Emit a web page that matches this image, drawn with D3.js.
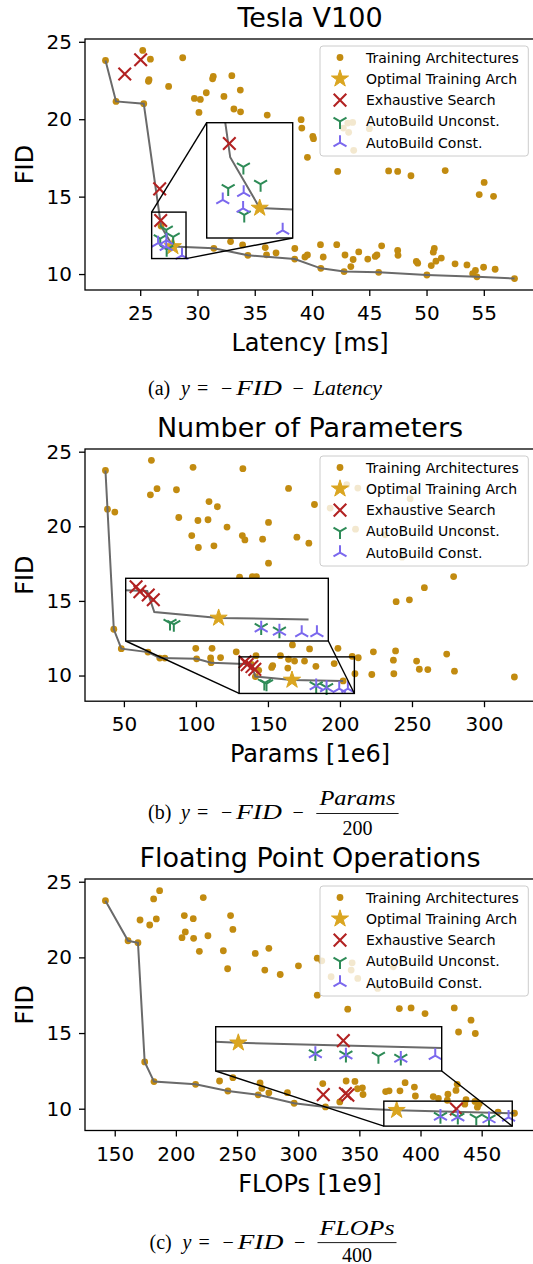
<!DOCTYPE html>
<html><head><meta charset="utf-8">
<script src="https://cdn.jsdelivr.net/npm/d3@7"></script>
<style>body{margin:0;background:#fff}svg{display:block}</style>
</head><body>
<svg id="c" width="533" height="1264"></svg>
<script>
// ---------------- DATA ----------------
const fidTicks = [10, 15, 20, 25];
const latencyTicks = [25, 30, 35, 40, 45, 50, 55];
const paramTicks = [50, 100, 150, 200, 250, 300];
const flopTicks = [150, 200, 250, 300, 350, 400, 450];

const legendLabels = ["Training Architectures", "Optimal Training Arch", "Exhaustive Search", "AutoBuild Unconst.", "AutoBuild Const."];

// Panel (a): Latency [ms] vs FID
const latencyPareto = [[21.97,23.79],[22.89,21.15],[25.31,21.0],[26.82,13.1],[27.85,11.78],[31.43,11.66],[34.4,11.21],[38.49,10.97],[40.77,10.37],[42.8,10.16],[45.82,10.11],[50.03,9.94],[54.4,9.82],[57.68,9.71]];
const latencyTraining = [[25.22,24.44],[25.89,23.88],[25.77,22.55],[25.72,22.45],[28.71,23.97],[27.48,22.12],[31.38,22.76],[31.32,22.61],[33.0,22.81],[30.77,21.71],[29.73,21.34],[30.25,21.28],[32.31,21.47],[33.74,21.88],[30.13,20.44],[33.18,20.66],[33.76,20.48],[36.09,20.27],[39.05,19.97],[39.11,19.43],[40.07,18.89],[40.13,18.74],[39.6,17.54],[42.24,16.63],[46.69,16.66],[47.48,16.63],[48.64,16.35],[51.63,16.68],[55.03,15.92],[54.6,15.13],[55.85,15.02],[43.12,19.75],[43.55,19.79],[45.01,19.39],[43.2,19.15],[43.64,17.99],[42.74,19.43],[32.89,12.1],[33.94,11.88],[35.92,11.71],[36.03,11.24],[36.86,11.36],[38.5,11.65],[39.38,11.1],[39.6,11.23],[40.74,11.9],[40.98,11.1],[42.16,11.9],[42.88,11.23],[43.59,10.94],[43.39,10.48],[44.08,11.43],[44.87,10.97],[45.52,11.14],[45.67,11.23],[46.08,11.82],[47.48,11.52],[47.51,11.21],[49.11,10.81],[49.23,10.7],[50.68,11.65],[50.59,11.41],[51.29,11.03],[50.82,10.83],[50.41,10.55],[52.49,10.66],[53.53,10.59],[54.27,10.23],[54.03,10.02],[54.98,10.44],[55.99,10.31]];
const latencyOptimal = [[27.85,11.78]];
const latencyExhaustive = [[23.65,22.92],[25.04,23.84],[26.7,15.5],[26.79,13.46]];
const latencyUnconst = [[27.28,12.85],[26.75,12.29],[27.88,12.4],[27.31,11.6]];
const latencyConst = [[26.56,11.99],[27.29,12.18],[27.27,11.77],[28.65,11.2]];

// Panel (b): Params [1e6] vs FID
const paramPareto = [[37.2,23.74],[43.0,13.1],[48.2,11.8],[66.7,11.57],[74.9,11.17],[100.5,11.12],[110.5,10.86],[138.5,10.75],[141.3,9.93],[166.7,9.7],[202.2,9.64]];
const paramTraining = [[38.6,21.15],[43.7,20.95],[69.1,24.42],[98.0,23.95],[132.6,23.86],[73.0,22.52],[68.4,22.11],[86.5,22.45],[109.1,21.66],[114.9,21.31],[88.1,20.59],[101.4,20.39],[108.4,20.44],[121.6,19.95],[97.1,19.38],[101.7,18.58],[112.5,18.69],[132.2,19.38],[134.0,19.09],[146.3,19.14],[150.4,20.26],[164.3,22.54],[182.3,21.46],[170.1,19.27],[178.4,18.87],[150.4,17.53],[130.3,16.59],[139.2,16.63],[142,16.63],[204.7,22.79],[212.4,22.56],[248.7,21.85],[193.2,21.22],[210.8,19.81],[231.4,19.43],[243.1,17.93],[287.5,19.7],[278.9,16.63],[258.6,15.89],[248.2,15.07],[239,14.95],[99.9,11.82],[111.2,11.82],[110.2,11.18],[78.4,11.17],[117.1,11.2],[128,11.59],[141.7,11.33],[143.6,10.35],[152.6,10.54],[153.3,10.67],[158.7,11.33],[167,12.05],[164.3,11.09],[168.5,10.97],[163.8,10.5],[175.4,10.97],[178.9,11.78],[183.3,10.62],[196,10.8],[198.6,11.82],[208.5,11.29],[212.7,11.19],[210.4,10.12],[223.2,11.59],[222.1,10.07],[237.1,11.03],[238.6,11.65],[237.4,10.12],[253.2,10.97],[255.1,10.42],[261,10.4],[274.1,11.44],[279.5,10.29],[321.1,9.9]];
const paramOptimal = [[166.7,9.7]];
const paramExhaustive = [[134.1,10.92],[135.6,10.73],[138.9,10.6],[140.9,10.41]];
const paramUnconst = [[147.5,9.5],[149,9.45],[183.5,9.33],[190.7,9.2]];
const paramConst = [[183.5,9.3],[190.7,9.18],[199.5,9.12],[205.5,9.12]];

// Panel (c): FLOPs [1e9] vs FID
const flopPareto = [[142.4,23.75],[160.9,21.1],[169.0,20.97],[174.5,13.09],[182.1,11.79],[216.1,11.61],[242.5,11.17],[267.3,10.92],[296.7,10.36],[322.3,10.12],[380.5,9.9],[476.8,9.7]];
const flopTraining = [[181.8,23.86],[186.7,24.41],[170.7,22.47],[178.6,22.14],[184.0,22.54],[222.4,23.95],[206.9,22.76],[214.2,22.56],[244.7,22.76],[246.6,21.85],[207.7,21.68],[205.0,21.3],[214.5,21.26],[226.2,21.43],[219.2,20.4],[238.8,20.44],[242.3,19.25],[264.9,20.26],[276.0,20.6],[272.7,19.16],[285.3,18.87],[300.2,19.44],[315.6,19.95],[319.3,19.77],[315.6,17.5],[340.5,16.58],[382.7,16.62],[392.3,16.66],[403.7,16.29],[427.6,16.66],[441.3,15.85],[431.1,15.07],[444.8,14.97],[326.9,18.72],[343.3,19.16],[344.1,19.64],[348.7,18.61],[365,17.95],[377.8,19.38],[235.7,11.83],[246.6,12.05],[268.8,11.7],[270.3,11.35],[276,11.05],[291.2,11.06],[320.1,11.66],[334,10.45],[339.2,11.83],[346.4,11.8],[348.5,11.32],[352.5,11.38],[353,10.94],[371.5,11.13],[374.3,11.18],[383.2,11.18],[387.4,11.72],[395,11.43],[395.8,10.84],[410.4,10.8],[414.6,10.68],[422.4,10.96],[421.9,10.56],[430,11.61],[429,11.21],[436.2,10.3],[437.2,10.6],[444.5,10.48],[446.5,10.1],[448,10.33],[463.4,9.78]];
const flopOptimal = [[380.5,9.9]];
const flopExhaustive = [[320.5,10.93],[338.6,11.0],[340.6,10.9],[429.3,9.98]];
const flopUnconst = [[416.3,9.5],[430.5,9.45],[445.6,9.4],[456,9.33]];
const flopConst = [[416.3,9.49],[430.5,9.44],[456,9.32],[472,9.42]];

// ---------------- STYLE / LAYOUT ----------------
const C = {dot:"#c28b10", star:"#daa520", red:"#b22222", green:"#2e8b57", purple:"#7b68ee", line:"#6a6a6a"};
const SANS = "'DejaVu Sans', sans-serif";
const SERIF = "'Liberation Serif', 'DejaVu Serif', serif";
const L = 85, R = 535;

const panels = [
  {title:"Tesla V100", xlabel:"Latency [ms]", top:39, bottom:290, xDomain:[20.18,59.47], yDomain:[8.97,25.18], xTicks:latencyTicks,
   training:latencyTraining, pareto:latencyPareto, optimal:latencyOptimal, exhaustive:latencyExhaustive, unconst:latencyUnconst, cons:latencyConst,
   zoomX:[26,29], zoomY:[11,14], inset:{x0:206.7,x1:292.7,y0:122.7,y1:238}, conn:[["tl","tl"],["br","br"]], legendTop:46},
  {title:"Number of Parameters", xlabel:"Params [1e6]", top:449, bottom:701.2, xDomain:[23.0,335.4], yDomain:[8.28,25.18], xTicks:paramTicks,
   training:paramTraining, pareto:paramPareto, optimal:paramOptimal, exhaustive:paramExhaustive, unconst:paramUnconst, cons:paramConst,
   zoomX:[130,210], zoomY:[8.8,11.25], inset:{x0:125.7,x1:328.3,y0:578.3,y1:641}, conn:[["bl","bl"],["br","br"]], legendTop:456},
  {title:"Floating Point Operations", xlabel:"FLOPs [1e9]", top:879, bottom:1130.5, xDomain:[125.7,493.6], yDomain:[8.56,25.18], xTicks:flopTicks,
   training:flopTraining, pareto:flopPareto, optimal:flopOptimal, exhaustive:flopExhaustive, unconst:flopUnconst, cons:flopConst,
   zoomX:[370,475], zoomY:[8.85,10.5], inset:{x0:215.7,x1:441.7,y0:1026.7,y1:1071}, conn:[["bl","bl"],["br","br"]], legendTop:886}
];

// ---------------- MARKERS ----------------
function starPath(Rr){const r=Rr*0.381966;const p=[];for(let i=0;i<10;i++){const a=-Math.PI/2+i*Math.PI/5;const rr=i%2?r:Rr;p.push([rr*Math.cos(a),rr*Math.sin(a)]);}return "M"+p.map(q=>q[0].toFixed(2)+","+q[1].toFixed(2)).join("L")+"Z";}
const MK = {
  star: starPath(9),
  x: (s=>`M${-s},${-s}L${s},${s}M${-s},${s}L${s},${-s}`)(6.3),
  triDown: (r=>`M0,0L0,${r}M0,0L${-0.866*r},${-0.5*r}M0,0L${0.866*r},${-0.5*r}`)(7.5),
  triUp: (r=>`M0,0L0,${-r}M0,0L${-0.866*r},${0.5*r}M0,0L${0.866*r},${0.5*r}`)(7.5)
};
function drawKind(g, pts, kind, xs, ys){
  const sel = g.selectAll(null).data(pts).enter();
  if(kind==="dot"){
    sel.append("circle").attr("cx",d=>xs(d[0])).attr("cy",d=>ys(d[1])).attr("r",3.4).attr("fill",C.dot);
    return;
  }
  const p = sel.append("path").attr("transform",d=>`translate(${xs(d[0])},${ys(d[1])})`);
  if(kind==="star") p.attr("d",MK.star).attr("fill",C.star).attr("stroke",C.star).attr("stroke-width",1);
  if(kind==="x") p.attr("d",MK.x).attr("fill","none").attr("stroke",C.red).attr("stroke-width",2.1);
  if(kind==="triDown") p.attr("d",MK.triDown).attr("fill","none").attr("stroke",C.green).attr("stroke-width",2);
  if(kind==="triUp") p.attr("d",MK.triUp).attr("fill","none").attr("stroke",C.purple).attr("stroke-width",2);
}
function drawSpecial(g, P, xs, ys){
  g.append("path").datum(P.pareto).attr("fill","none").attr("stroke",C.line).attr("stroke-width",2)
    .attr("d", d3.line().x(d=>xs(d[0])).y(d=>ys(d[1])));
  drawKind(g, P.optimal, "star", xs, ys);
  drawKind(g, P.exhaustive, "x", xs, ys);
  drawKind(g, P.unconst, "triDown", xs, ys);
  drawKind(g, P.cons, "triUp", xs, ys);
}

const svg = d3.select("#c");
const defs = svg.append("defs");

panels.forEach((P, idx) => {
  const x = d3.scaleLinear().domain(P.xDomain).range([L, R]);
  const y = d3.scaleLinear().domain(P.yDomain).range([P.bottom, P.top]);
  const g = svg.append("g");

  const cid = "clipMain"+idx;
  defs.append("clipPath").attr("id",cid).append("rect").attr("x",L).attr("y",P.top).attr("width",R-L).attr("height",P.bottom-P.top);
  const plot = g.append("g").attr("clip-path",`url(#${cid})`);

  drawKind(plot, P.training, "dot", x, y);
  drawKind(plot, P.pareto, "dot", x, y);
  drawSpecial(plot, P, x, y);

  const xa = g.append("g").attr("transform",`translate(0,${P.bottom})`)
    .call(d3.axisBottom(x).tickValues(P.xTicks).tickSize(6).tickSizeOuter(0).tickPadding(10).tickFormat(d3.format("d")));
  const ya = g.append("g").attr("transform",`translate(${L},0)`)
    .call(d3.axisLeft(y).tickValues(fidTicks).tickSize(6).tickSizeOuter(0).tickPadding(7).tickFormat(d3.format("d")));
  [xa, ya].forEach(a => {
    a.select(".domain").remove();
    a.selectAll(".tick line").attr("stroke","#000").attr("stroke-width",1.3);
    a.selectAll(".tick text").attr("font-family",SANS).attr("font-size",20).attr("fill","#000");
  });
  g.append("rect").attr("x",L).attr("y",P.top).attr("width",R-L).attr("height",P.bottom-P.top)
    .attr("fill","none").attr("stroke","#000").attr("stroke-width",1.3);

  // zoom region rectangle + connectors
  const zx0 = x(P.zoomX[0]), zx1 = x(P.zoomX[1]), zy0 = y(P.zoomY[1]), zy1 = y(P.zoomY[0]);
  const I = P.inset;
  const corner = {
    reg:{tl:[zx0,zy0],tr:[zx1,zy0],bl:[zx0,zy1],br:[zx1,zy1]},
    ins:{tl:[I.x0,I.y0],tr:[I.x1,I.y0],bl:[I.x0,I.y1],br:[I.x1,I.y1]}
  };
  g.append("rect").attr("x",zx0).attr("y",zy0).attr("width",zx1-zx0).attr("height",zy1-zy0)
    .attr("fill","none").attr("stroke","#000").attr("stroke-width",1.4);
  P.conn.forEach(([a,b]) => {
    g.append("line").attr("x1",corner.reg[a][0]).attr("y1",corner.reg[a][1])
      .attr("x2",corner.ins[b][0]).attr("y2",corner.ins[b][1]).attr("stroke","#000").attr("stroke-width",1.4);
  });

  // inset axes
  const ix = d3.scaleLinear().domain(P.zoomX).range([I.x0, I.x1]);
  const iy = d3.scaleLinear().domain(P.zoomY).range([I.y1, I.y0]);
  const icid = "clipInset"+idx;
  defs.append("clipPath").attr("id",icid).append("rect").attr("x",I.x0).attr("y",I.y0).attr("width",I.x1-I.x0).attr("height",I.y1-I.y0);
  g.append("rect").attr("x",I.x0).attr("y",I.y0).attr("width",I.x1-I.x0).attr("height",I.y1-I.y0).attr("fill","#fff");
  const ig = g.append("g").attr("clip-path",`url(#${icid})`);
  drawSpecial(ig, P, ix, iy);
  g.append("rect").attr("x",I.x0).attr("y",I.y0).attr("width",I.x1-I.x0).attr("height",I.y1-I.y0)
    .attr("fill","none").attr("stroke","#000").attr("stroke-width",1.4);

  // legend
  const lt = P.legendTop;
  g.append("rect").attr("x",320).attr("y",lt).attr("width",208.3).attr("height",110).attr("rx",3)
    .attr("fill","#fff").attr("fill-opacity",0.8).attr("stroke","#cccccc").attr("stroke-width",1);
  const lk = ["dot","star","x","triDown","triUp"];
  legendLabels.forEach((lab,i) => {
    const ry = lt + 11.5 + i*21.3;
    drawKind(g, [[0,0]], lk[i], () => 340, () => ry);
    g.append("text").attr("x",366).attr("y",ry+5).attr("font-family",SANS).attr("font-size",14).attr("fill","#000").text(lab);
  });

  // titles and labels
  g.append("text").attr("x",(L+R)/2).attr("y",P.top-12.3).attr("text-anchor","middle")
    .attr("font-family",SANS).attr("font-size",27).attr("fill","#000").text(P.title);
  g.append("text").attr("x",(L+R)/2).attr("y",P.bottom+61).attr("text-anchor","middle")
    .attr("font-family",SANS).attr("font-size",24).attr("fill","#000").text(P.xlabel);
  g.append("text").attr("transform",`translate(33.3,${(P.top+P.bottom)/2}) rotate(-90)`).attr("text-anchor","middle")
    .attr("font-family",SANS).attr("font-size",24).attr("fill","#000").text("FID");
});

// ---------------- CAPTIONS ----------------
const captions = [
  {base:395, label:"(a)", tail:{t:"Latency", x:313, w:69}},
  {base:819, label:"(b)", frac:{num:"Params", den:"200", x0:316.3, x1:398.6, bar:813.5, numBase:805, denBase:835, numW:76}},
  {base:1249, label:"(c)", frac:{num:"FLOPs", den:"400", x0:317.5, x1:396.5, bar:1242.6, numBase:1235, denBase:1261.5, numW:75}}
];
const FS = 20;
captions.forEach((c, i) => {
  const dx = i===2 ? 1.5 : 0;
  const parts = [
    {t:c.label, x:148+dx, it:false},
    {t:"y", x:181+dx, it:true},
    {t:"=", x:197+dx, it:false},
    {t:"−", x:221+dx, it:false},
    {t:"FID", x:236+dx, it:true, w:46},
    {t:"−", x:292.5+dx, it:false}
  ];
  if(c.tail) parts.push({t:c.tail.t, x:c.tail.x, it:true, w:c.tail.w});
  parts.forEach(p => {
    const t = svg.append("text").attr("x",p.x).attr("y",c.base).attr("font-family",SERIF).attr("font-size",FS)
      .attr("font-style",p.it?"italic":"normal").attr("fill","#000").text(p.t);
    if(p.w) t.attr("textLength",p.w).attr("lengthAdjust","spacingAndGlyphs");
  });
  if(c.frac){
    const f = c.frac, cx = (f.x0+f.x1)/2;
    svg.append("line").attr("x1",f.x0).attr("x2",f.x1).attr("y1",f.bar).attr("y2",f.bar).attr("stroke","#000").attr("stroke-width",0.9);
    svg.append("text").attr("x",cx-f.numW/2).attr("y",f.numBase).attr("font-family",SERIF).attr("font-size",FS)
      .attr("font-style","italic").attr("textLength",f.numW).attr("lengthAdjust","spacingAndGlyphs").text(f.num);
    svg.append("text").attr("x",cx).attr("y",f.denBase).attr("text-anchor","middle").attr("font-family",SERIF).attr("font-size",FS).text(f.den);
  }
});
</script>
</body></html>
